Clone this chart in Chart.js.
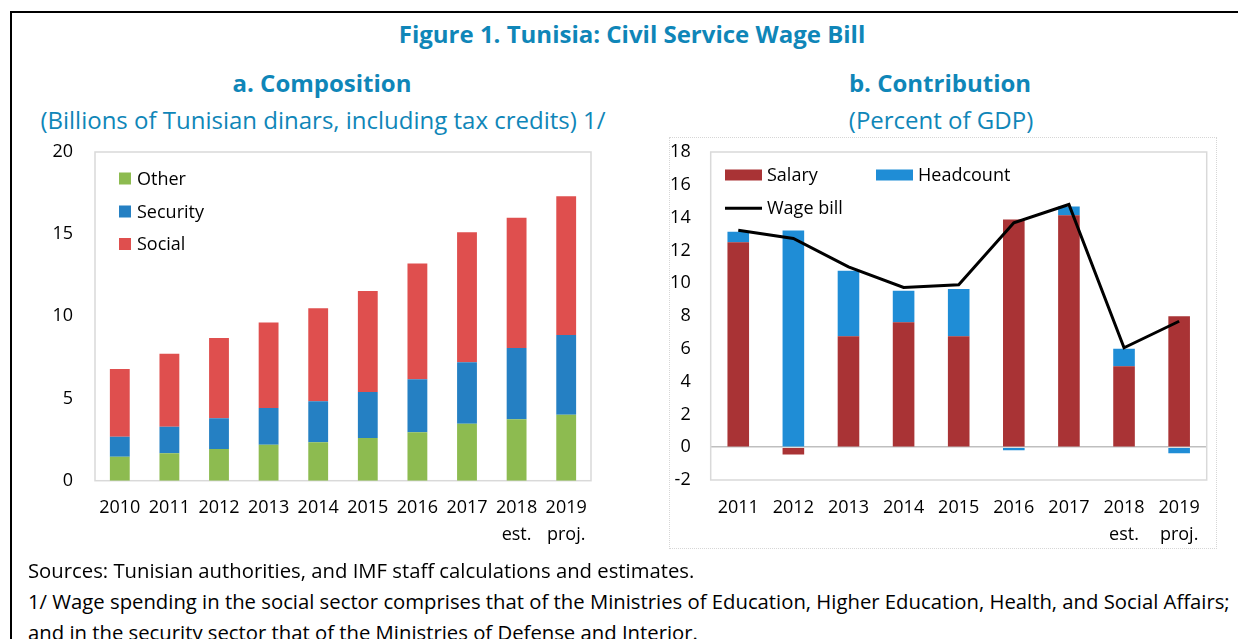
<!DOCTYPE html>
<html><head><meta charset="utf-8">
<script src="https://cdn.jsdelivr.net/npm/chart.js@4.4.1/dist/chart.umd.min.js"></script>
<style>
html,body{margin:0;padding:0;background:#fff;}
body{width:1238px;height:639px;position:relative;overflow:hidden;font-family:'Open Sans',sans-serif;}
.frame{position:absolute;left:10px;top:11px;width:1300px;height:700px;border-top:2px solid #000;border-left:2px solid #000;}
.c{position:absolute;white-space:nowrap;transform:translate(-50%,-50%);color:#0F86B8;}
.fig{font-weight:700;font-size:24px;}
.sub{font-weight:700;font-size:24px;}
.unit{font-weight:400;font-size:24px;}
.note{position:absolute;left:28px;white-space:nowrap;font-size:20.3px;color:#000;transform:translateY(-50%);}
.box{position:absolute;}
.dots{position:absolute;left:669px;top:137px;width:546px;height:410px;border:1px dotted #D6D6D6;}
</style></head>
<body>
<div class="frame"></div>
<div class="c fig" style="left:632px;top:33px;">Figure 1. Tunisia: Civil Service Wage Bill</div>
<div class="c sub" style="left:322px;top:82px;">a. Composition</div>
<div class="c unit" style="left:323px;top:119px;">(Billions of Tunisian dinars, including tax credits) 1/</div>
<div class="c sub" style="left:940px;top:82px;">b. Contribution</div>
<div class="c unit" style="left:941px;top:119px;">(Percent of GDP)</div>
<div class="dots"></div>
<div class="box" style="left:20px;top:140px;width:590px;height:420px;"><canvas id="left" width="590" height="420"></canvas></div>
<div class="box" style="left:650px;top:140px;width:580px;height:420px;"><canvas id="right" width="580" height="420"></canvas></div>
<div class="note" style="top:570px;">Sources: Tunisian authorities, and IMF staff calculations and estimates.</div>
<div class="note" style="top:601px;">1/ Wage spending in the social sector comprises that of the Ministries of Education, Higher Education, Health, and Social Affairs;</div>
<div class="note" style="top:632px;">and in the security sector that of the Ministries of Defense and Interior.</div>
<script>
// ---- Data: panel a (billions of TND) ----
const compCategories = ['2010','2011','2012','2013','2014','2015','2016','2017',['2018','est.'],['2019','proj.']];
const compOther    = [1.46, 1.67, 1.93, 2.18, 2.34, 2.60, 2.95, 3.46, 3.74, 4.01];
const compSecurity = [1.22, 1.62, 1.87, 2.25, 2.50, 2.79, 3.23, 3.74, 4.33, 4.86];
const compSocial   = [4.11, 4.44, 4.88, 5.20, 5.65, 6.16, 7.03, 7.92, 7.93, 8.43];
const compTicks = [0, 5, 10, 15, 20];

// ---- Data: panel b (percent of GDP) ----
const contribCategories = ['2011','2012','2013','2014','2015','2016','2017',['2018','est.'],['2019','proj.']];
const contribSalary    = [12.50, -0.45, 6.77, 7.62, 6.77, 13.88, 14.15, 4.94, 7.99];
const contribHeadcount = [0.63, 13.21, 3.99, 1.92, 2.87, -0.18, 0.53, 1.06, -0.37];
const contribWageBill  = [13.23, 12.73, 11.00, 9.74, 9.90, 13.68, 14.80, 6.06, 7.68];
const contribTicks = [-2, 0, 2, 4, 6, 8, 10, 12, 14, 16, 18];

const FONT = "'Open Sans', sans-serif";

const plotBox = {
  id: 'plotBox',
  beforeDatasetsDraw(chart, args, opts) {
    const a = chart.chartArea, ctx = chart.ctx;
    ctx.save();
    ctx.strokeStyle = opts.color || '#D9D9D9';
    ctx.lineWidth = opts.width || 1.5;
    ctx.strokeRect(a.left, a.top, a.right - a.left, a.bottom - a.top);
    ctx.restore();
  }
};

const customLegend = {
  id: 'customLegend',
  afterDraw(chart, args, opts) {
    const ctx = chart.ctx;
    ctx.save();
    ctx.font = '18px ' + FONT;
    ctx.textBaseline = 'middle';
    chart.data.datasets.forEach((ds, i) => {
      const [x, y] = opts.positions[i];
      if (ds.type === 'line') {
        ctx.strokeStyle = ds.borderColor;
        ctx.lineWidth = ds.borderWidth;
        ctx.beginPath(); ctx.moveTo(x, y); ctx.lineTo(x + opts.boxW, y); ctx.stroke();
      } else {
        ctx.fillStyle = ds.backgroundColor;
        ctx.fillRect(x, y - opts.boxH / 2, opts.boxW, opts.boxH);
      }
      ctx.fillStyle = '#000';
      ctx.fillText(ds.label, x + opts.textDx, y + 1);
    });
    ctx.restore();
  }
};

const tickFont = { family: FONT, size: 18, lineHeight: 1.5 };
function noPad(s) { s.paddingTop = 0; s.paddingBottom = 0; }

new Chart(document.getElementById('left'), {
  type: 'bar',
  data: {
    labels: compCategories,
    datasets: [
      { label: 'Other', data: compOther, backgroundColor: '#8DBB50' },
      { label: 'Security', data: compSecurity, backgroundColor: '#2580C3' },
      { label: 'Social', data: compSocial, backgroundColor: '#DF4F4E' }
    ]
  },
  plugins: [plotBox, customLegend],
  options: {
    responsive: false, animation: false, devicePixelRatio: 1,
    categoryPercentage: 0.8, barPercentage: 0.5,
    layout: { padding: { top: 12, right: 19, left: 0, bottom: 0 } },
    plugins: {
      legend: { display: false }, tooltip: { enabled: false },
      plotBox: { color: '#D9D9D9', width: 1.5 },
      customLegend: { positions: [[99, 38.5], [99, 71.5], [99, 104]], boxW: 12, boxH: 12, textDx: 18 }
    },
    scales: {
      x: {
        stacked: true,
        grid: { display: false, drawTicks: false },
        border: { display: false },
        ticks: { font: tickFont, color: '#000', padding: 14, maxRotation: 0, autoSkip: false },
        afterFit(s) { s.height = 79.3; }
      },
      y: {
        stacked: true, min: 0, max: 20,
        grid: { display: false, drawTicks: false },
        border: { display: false },
        afterBuildTicks(s) { s.ticks = compTicks.map(v => ({ value: v })); },
        ticks: { font: tickFont, color: '#000', padding: 22 },
        afterFit(s) { s.width = 75; noPad(s); }
      }
    }
  }
});

new Chart(document.getElementById('right'), {
  type: 'bar',
  data: {
    labels: contribCategories,
    datasets: [
      { label: 'Salary', data: contribSalary, backgroundColor: '#A93335', stack: 'bars', order: 2 },
      { label: 'Headcount', data: contribHeadcount, backgroundColor: '#1F8DD6', stack: 'bars', order: 2 },
      { type: 'line', label: 'Wage bill', data: contribWageBill, borderColor: '#000', borderWidth: 3,
        pointRadius: 0, tension: 0, fill: false, stack: 'line', order: 0 }
    ]
  },
  plugins: [plotBox, customLegend],
  options: {
    responsive: false, animation: false, devicePixelRatio: 1,
    categoryPercentage: 0.8, barPercentage: 0.49,
    layout: { padding: { top: 12, right: 23.3, left: 0, bottom: 0 } },
    plugins: {
      legend: { display: false }, tooltip: { enabled: false },
      plotBox: { color: '#D9D9D9', width: 1.5 },
      customLegend: { positions: [[75, 35], [226, 35], [75, 68.3]], boxW: 37, boxH: 11, textDx: 42 }
    },
    scales: {
      x: {
        stacked: true, offset: true,
        grid: { display: false, drawTicks: false },
        border: { display: false },
        ticks: { font: tickFont, color: '#000', padding: 14, maxRotation: 0, autoSkip: false },
        afterFit(s) { s.height = 80; }
      },
      y: {
        stacked: true, min: -2, max: 18,
        grid: { drawTicks: false, lineWidth: 1.5, color: c => (c.tick && c.tick.value === 0) ? '#BFBFBF' : 'rgba(0,0,0,0)' },
        border: { display: false },
        afterBuildTicks(s) { s.ticks = contribTicks.map(v => ({ value: v })); },
        ticks: { font: tickFont, color: '#000', padding: 20 },
        afterFit(s) { s.width = 60.7; noPad(s); }
      }
    }
  }
});
</script>
</body></html>
